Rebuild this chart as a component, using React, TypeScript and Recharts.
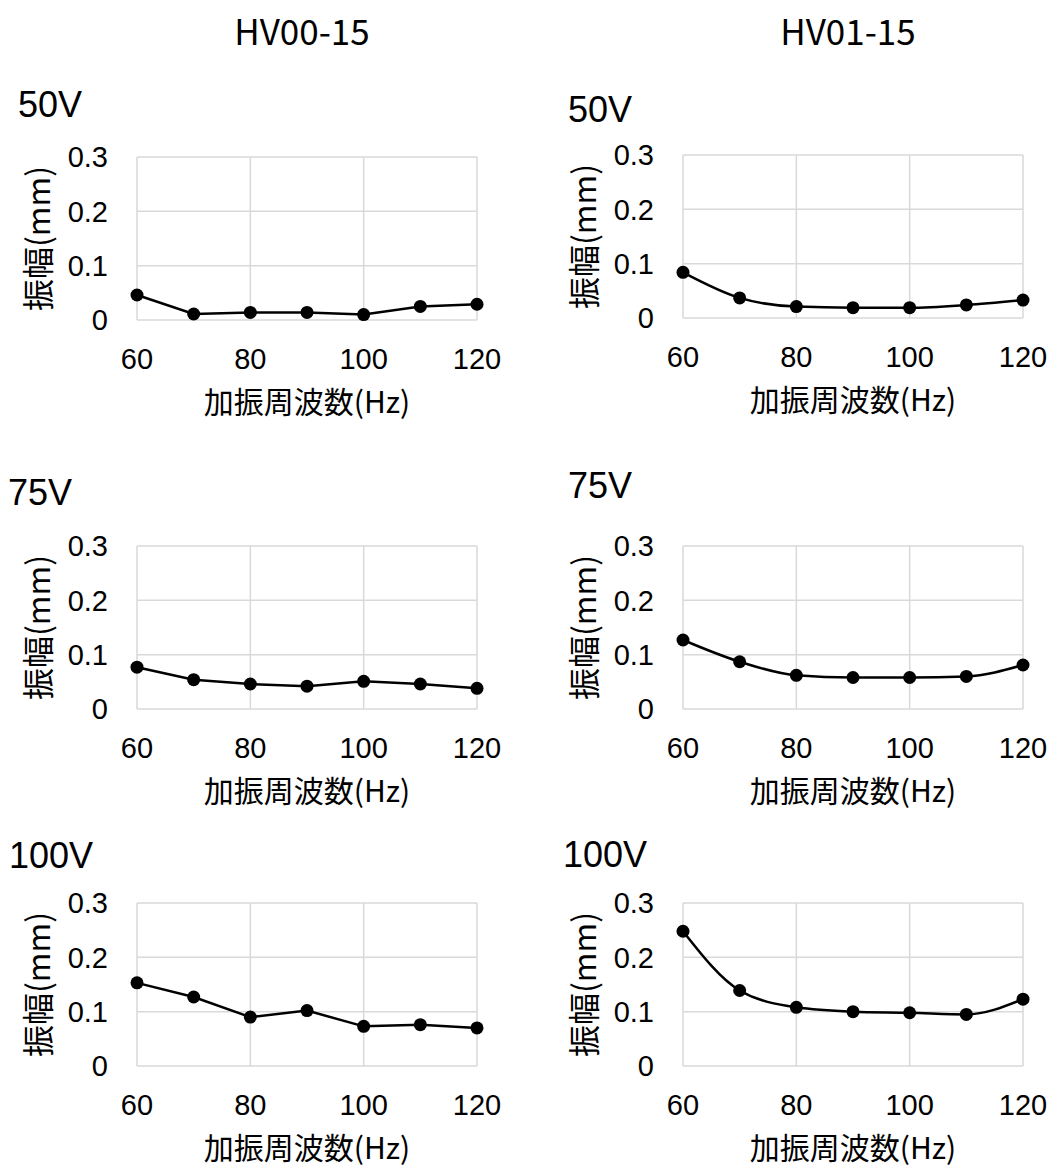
import React from "react";
import { LineChart, Line, XAxis, YAxis, CartesianGrid } from "recharts";

const FREQS = [60, 70, 80, 90, 100, 110, 120];
const X_TICKS = [60, 80, 100, 120];
const Y_TICKS = [0, 0.1, 0.2, 0.3];

// HV00-15
const HV00_50V = [0.046, 0.011, 0.014, 0.014, 0.01, 0.025, 0.029];
const HV00_75V = [0.077, 0.054, 0.046, 0.042, 0.051, 0.046, 0.038];
const HV00_100V = [0.153, 0.127, 0.09, 0.102, 0.073, 0.076, 0.07];

// HV01-15
const HV01_50V = [0.084, 0.037, 0.021, 0.019, 0.019, 0.024, 0.033];
const HV01_75V = [0.127, 0.087, 0.062, 0.058, 0.058, 0.06, 0.081];
const HV01_100V = [0.248, 0.139, 0.108, 0.1, 0.098, 0.095, 0.123];

const LATIN = "'Liberation Sans', Arial, sans-serif";
const JP = "'Noto Sans CJK JP', 'Noto Sans CJK SC', sans-serif";

const PLOT_W = 340;
const PLOT_H = 163;
const M_LEFT = 37;
const Y_AXIS_W = 100;
const M_TOP = 30;
const M_RIGHT = 30;
const X_AXIS_H = 104;

interface PanelProps {
  plotLeft: number;
  plotTop: number;
  values: number[];
  smooth?: boolean;
}

function Panel({ plotLeft, plotTop, values, smooth }: PanelProps) {
  const data = FREQS.map((f, i) => ({ f, v: values[i] }));
  const width = M_LEFT + Y_AXIS_W + PLOT_W + M_RIGHT;
  const height = M_TOP + PLOT_H + X_AXIS_H;

  return (
    <div
      style={{
        position: "absolute",
        left: plotLeft - M_LEFT - Y_AXIS_W,
        top: plotTop - M_TOP,
      }}
    >
      <LineChart
        width={width}
        height={height}
        data={data}
        margin={{ top: M_TOP, right: M_RIGHT, bottom: 0, left: M_LEFT }}
      >
        <CartesianGrid stroke="#d9d9d9" strokeWidth={1.5} />
        <XAxis
          dataKey="f"
          type="number"
          domain={[60, 120]}
          ticks={X_TICKS}
          axisLine={false}
          tickLine={false}
          tickSize={0}
          tickMargin={28}
          height={X_AXIS_H}
          tick={{ fontSize: 29, fill: "#000", fontFamily: LATIN }}
          label={{
            value: "加振周波数(Hz)",
            position: "insideTop",
            offset: 72,
            style: { fontSize: 30, fill: "#000", fontFamily: JP },
          }}
        />
        <YAxis
          type="number"
          domain={[0, 0.3]}
          ticks={Y_TICKS}
          axisLine={false}
          tickLine={false}
          tickSize={0}
          tickMargin={29}
          width={Y_AXIS_W}
          tick={{ fontSize: 29, fill: "#000", fontFamily: LATIN }}
          label={{
            value: "振幅(mm)",
            angle: -90,
            position: "insideLeft",
            offset: 2,
            style: {
              fontSize: 32,
              fill: "#000",
              fontFamily: JP,
              textAnchor: "middle",
            },
          }}
        />
        <Line
          dataKey="v"
          type={smooth ? "monotone" : "linear"}
          stroke="#000"
          strokeWidth={2.5}
          dot={{ r: 6.5, fill: "#000", stroke: "#000", strokeWidth: 0 }}
          activeDot={false}
          isAnimationActive={false}
        />
      </LineChart>
    </div>
  );
}

export default function App() {
  return (
    <div
      style={{
        position: "absolute",
        left: 0,
        top: 0,
        width: 1058,
        height: 1167,
        overflow: "hidden",
        background: "#fff",
      }}
    >
      <svg
        width={1058}
        height={1167}
        style={{ position: "absolute", left: 0, top: 0, pointerEvents: "none" }}
      >
        <text x={302} y={45} textAnchor="middle" fontSize={35} fontFamily={JP} fill="#000">
          HV00-15
        </text>
        <text x={848} y={45} textAnchor="middle" fontSize={35} fontFamily={JP} fill="#000">
          HV01-15
        </text>
        <g fontSize={36} fontFamily={LATIN} fill="#000">
          <text x={18} y={117}>50V</text>
          <text x={568} y={122}>50V</text>
          <text x={8} y={505}>75V</text>
          <text x={568} y={498}>75V</text>
          <text x={9} y={868}>100V</text>
          <text x={563} y={867}>100V</text>
        </g>
      </svg>

      <Panel plotLeft={137} plotTop={157} values={HV00_50V} />
      <Panel plotLeft={683} plotTop={155} values={HV01_50V} smooth />
      <Panel plotLeft={137} plotTop={546} values={HV00_75V} />
      <Panel plotLeft={683} plotTop={546} values={HV01_75V} smooth />
      <Panel plotLeft={137} plotTop={903} values={HV00_100V} />
      <Panel plotLeft={683} plotTop={903} values={HV01_100V} smooth />
    </div>
  );
}
